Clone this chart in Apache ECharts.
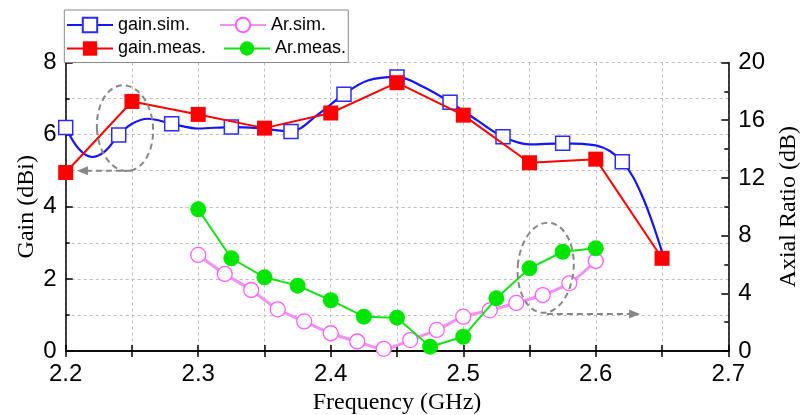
<!DOCTYPE html>
<html><head><meta charset="utf-8">
<script src="https://cdn.jsdelivr.net/npm/echarts@6/dist/echarts.min.js"></script>
<style>html,body{margin:0;padding:0;background:#fff}#c{width:801px;height:415px}</style>
</head><body><div id="c"></div>
<script>
// ---- data ----
const gainSimFreq = [2.200,2.210,2.220,2.230,2.240,2.250,2.262,2.280,2.300,2.325,2.345,2.370,2.390,2.410,2.428,2.450,2.470,2.490,2.510,2.530,2.550,2.575,2.600,2.620,2.635,2.650];
const gainSimVal  = [6.20,5.60,5.38,5.55,5.99,6.30,6.44,6.30,6.17,6.21,6.18,6.09,6.55,7.12,7.50,7.60,7.32,6.90,6.41,5.94,5.73,5.76,5.70,5.25,4.30,2.75];
const gainSimMarkerFreq = [2.200,2.240,2.280,2.325,2.370,2.410,2.450,2.490,2.530,2.575,2.620];
const gainMeasFreq = [2.20,2.25,2.30,2.35,2.40,2.45,2.50,2.55,2.60,2.65];
const gainMeasVal  = [4.95,6.92,6.56,6.18,6.60,7.44,6.54,5.22,5.32,2.57];
const arSimFreq = [2.30,2.32,2.34,2.36,2.38,2.40,2.42,2.44,2.46,2.48,2.50,2.52,2.54,2.56,2.58,2.60];
const arSimVal  = [6.66,5.34,4.23,2.89,2.05,1.23,0.66,0.15,0.76,1.46,2.38,2.82,3.33,3.88,4.69,6.24];
const arMeasFreq = [2.300,2.325,2.350,2.375,2.400,2.425,2.450,2.475,2.500,2.525,2.550,2.575,2.600];
const arMeasVal  = [9.82,6.43,5.11,4.53,3.52,2.38,2.31,0.30,0.99,3.65,5.73,6.88,7.12];
const seriesNames = ['gain.sim.','gain.meas.','Ar.sim.','Ar.meas.'];

const zip = (a,b) => a.map((v,i)=>[v,b[i]]);
const simData = gainSimFreq.map((f,i)=>{
  const isMarker = gainSimMarkerFreq.some(m=>Math.abs(m-f)<1e-6);
  return isMarker ? {value:[f,gainSimVal[i]]} : {value:[f,gainSimVal[i]], symbol:'none'};
});

const chart = echarts.init(document.getElementById('c'), null, {renderer:'canvas'});
const gridDash = {show:true, lineStyle:{color:'#bdbdbd', type:[3,3], width:1}};
const tickFont = {fontFamily:'Liberation Sans, Arial, sans-serif', fontSize:24, color:'#000'};
const nameFont = {fontFamily:'Liberation Serif, Times New Roman, serif', fontSize:24, color:'#000'};
const axLine = {show:true, lineStyle:{color:'#000', width:1.5}};
const legendCommon = {orient:'vertical', padding:0, itemWidth:46, itemHeight:18, itemGap:5,
  textStyle:{fontFamily:'Liberation Sans, Arial, sans-serif', fontSize:18, color:'#000'}};

chart.setOption({
  animation:false,
  backgroundColor:'#fff',
  grid:{left:65.7, right:72.7, top:62.5, bottom:64, containLabel:false, outerBoundsMode:'none'},
  legend:[
    Object.assign({data:[seriesNames[0]], left:66, top:16}, legendCommon),
    Object.assign({data:[seriesNames[1]], left:66, top:39.5}, legendCommon),
    Object.assign({data:[seriesNames[2]], left:219, top:16}, legendCommon),
    Object.assign({data:[seriesNames[3]], left:223, top:39.5}, legendCommon)
  ],
  xAxis:[
    {type:'value', position:'bottom', min:2.2, max:2.7, interval:0.1,
     axisLine:axLine, axisTick:{show:true, inside:true, length:6, lineStyle:{color:'#000', width:1.5}},
     minorTick:{show:true, splitNumber:2, length:6, lineStyle:{color:'#000', width:1.5}},
     splitLine:gridDash, minorSplitLine:gridDash,
     axisLabel:Object.assign({margin:11, formatter:v=>v.toFixed(1)}, tickFont),
     name:'Frequency (GHz)', nameLocation:'middle', nameGap:39, nameTextStyle:nameFont},
    {type:'value', position:'top', min:2.2, max:2.7, interval:0.1,
     axisLine:axLine, axisTick:{show:true, inside:true, length:6, lineStyle:{color:'#000', width:1.5}},
     minorTick:{show:true, splitNumber:2, length:6, lineStyle:{color:'#000', width:1.5}},
     splitLine:{show:false}, axisLabel:{show:false}}
  ],
  yAxis:[
    {type:'value', position:'left', min:0, max:8, interval:2,
     axisLine:axLine, axisTick:{show:true, inside:true, length:7, lineStyle:{color:'#000', width:1.5}},
     minorTick:{show:true, splitNumber:2, length:4, lineStyle:{color:'#000', width:1.5}},
     splitLine:gridDash, minorSplitLine:gridDash,
     axisLabel:Object.assign({margin:9}, tickFont),
     name:'Gain (dBi)', nameLocation:'middle', nameGap:27, nameRotate:90, nameMoveOverlap:false, nameTextStyle:nameFont},
    {type:'value', position:'right', min:0, max:20, interval:4,
     axisLine:axLine, axisTick:{show:true, inside:true, length:7, lineStyle:{color:'#000', width:1.5}},
     minorTick:{show:true, splitNumber:2, length:4, lineStyle:{color:'#000', width:1.5}},
     splitLine:{show:false},
     axisLabel:Object.assign({margin:10}, tickFont),
     name:'Axial Ratio (dB)', nameLocation:'middle', nameGap:48, nameRotate:90, nameTextStyle:nameFont}
  ],
  series:[
    {name:seriesNames[0], type:'line', data:simData, smooth:0.35, xAxisIndex:0, yAxisIndex:0,
     symbol:'rect', symbolSize:14, showAllSymbol:true,
     lineStyle:{color:'#1414ff', width:2.2},
     itemStyle:{color:'#ffffff', borderColor:'#2b2bff', borderWidth:1.5}, z:2},
    {name:seriesNames[1], type:'line', data:zip(gainMeasFreq,gainMeasVal), xAxisIndex:0, yAxisIndex:0,
     symbol:'rect', symbolSize:15,
     lineStyle:{color:'#ff0000', width:2},
     itemStyle:{color:'#ff0000', borderColor:'#ff0000', borderWidth:0}, z:3},
    {name:seriesNames[2], type:'line', data:zip(arSimFreq,arSimVal), xAxisIndex:0, yAxisIndex:1,
     smooth:0.3, symbol:'circle', symbolSize:15,
     lineStyle:{color:'#f490f4', width:3},
     itemStyle:{color:'#ffffff', borderColor:'#ff5cff', borderWidth:1.3}, z:4},
    {name:seriesNames[3], type:'line', data:zip(arMeasFreq,arMeasVal), xAxisIndex:0, yAxisIndex:1,
     symbol:'circle', symbolSize:16,
     lineStyle:{color:'#16e016', width:2},
     itemStyle:{color:'#00e600', borderColor:'#00e600', borderWidth:0}, z:5}
  ]
});

// ---- annotations (positioned in data coordinates) ----
function p0(f,v){return chart.convertToPixel({xAxisIndex:0,yAxisIndex:0},[f,v]);}
function p1(f,v){return chart.convertToPixel({xAxisIndex:0,yAxisIndex:1},[f,v]);}
const dashStyle = {fill:'none', stroke:'#878787', lineWidth:2, lineDash:[6,4]};
function ellipse(pa, pb, rot){
  const cx=(pa[0]+pb[0])/2, cy=(pa[1]+pb[1])/2;
  return {type:'ellipse', x:cx, y:cy, rotation:rot, shape:{cx:0, cy:0, rx:Math.abs(pb[0]-pa[0])/2, ry:Math.abs(pb[1]-pa[1])/2}, style:dashStyle, z:50};
}
function arrow(a, b){
  const dir = Math.sign(b[0]-a[0]);
  const tip=b, baseX=b[0]-dir*11;
  return [
    {type:'line', shape:{x1:a[0],y1:a[1],x2:baseX,y2:b[1]}, style:dashStyle, z:50},
    {type:'polygon', shape:{points:[[tip[0],tip[1]],[baseX,tip[1]-4.5],[baseX,tip[1]+4.5]]}, style:{fill:'#878787'}, z:50}
  ];
}
const gfx = [];
const lb0 = p0(2.2, 8);
gfx.push({type:'rect', shape:{x:lb0[0]-1.4, y:10, width:284, height:lb0[1]-10}, style:{fill:'none', stroke:'#8a8a8a', lineWidth:1}, z:40});
gfx.push(ellipse(p0(2.2236,7.37), p0(2.2659,4.99), 0.07));
gfx.push(...arrow(p0(2.2499,5.0), p0(2.2085,5.0)));
gfx.push(ellipse(p1(2.5411,8.90), p1(2.5833,2.64), -0.08));
gfx.push(...arrow(p1(2.5631,2.57), p1(2.6334,2.57)));
chart.setOption({graphic:gfx});
</script></body></html>
